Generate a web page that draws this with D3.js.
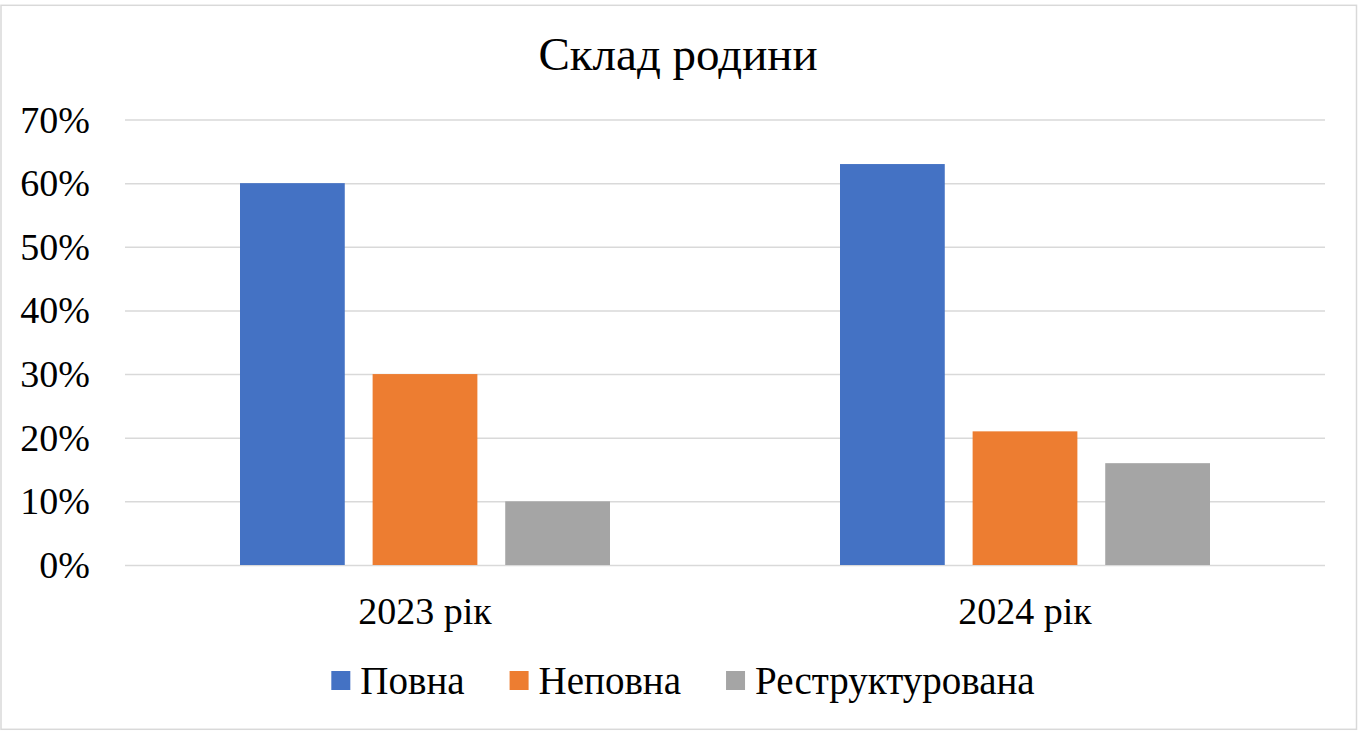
<!DOCTYPE html>
<html lang="uk">
<head>
<meta charset="utf-8">
<title>Склад родини</title>
<script src="https://cdn.jsdelivr.net/npm/d3@7"></script>
<style>
  html, body { margin: 0; padding: 0; background: #fff; }
  svg { display: block; font-family: "Liberation Serif", "Times New Roman", serif; }
  .grid line { stroke: #d9d9d9; stroke-width: 1.5; }
  .axis text { fill: #000; font-size: 38px; font-family: "Liberation Serif", "Times New Roman", serif; }
  .legend text { fill: #000; font-size: 39px; }
</style>
</head>
<body>
<svg id="chart" width="1358" height="731"></svg>
<script>
// chart data
const TITLE = 'Склад родини';
const YEARS = ['2023 рік', '2024 рік'];
const SERIES = ['Повна', 'Неповна', 'Реструктурована'];
const COLORS = ['#4472C4', '#ED7D31', '#A5A5A5'];
const POVNA = [0.60, 0.63];
const NEPOVNA = [0.30, 0.21];
const RESTR = [0.10, 0.16];
const Y_TICKS = [0, 0.1, 0.2, 0.3, 0.4, 0.5, 0.6, 0.7];

(function () {
  const svg = d3.select('#chart');
  const W = 1358, H = 731;
  const plot = { left: 125, right: 1325, top: 119.5, bottom: 565 };

  // outer frame
  svg.append('rect').attr('x', 1).attr('y', 5.3).attr('width', W - 2.5).attr('height', H - 7)
    .attr('fill', '#fff').attr('stroke', '#d9d9d9').attr('stroke-width', 1.5);

  svg.append('text').attr('x', 678).attr('y', 70).attr('text-anchor', 'middle')
    .style('font-size', '47px').attr('fill', '#000').text(TITLE);

  const y = d3.scaleLinear().domain([0, 0.7]).range([plot.bottom, plot.top]);
  const x = d3.scaleBand().domain(YEARS).range([plot.left, plot.right]).padding(0);
  const xs = d3.scaleBand().domain(SERIES).range([115, 485]).paddingInner(0.21).paddingOuter(0);

  // y axis + gridlines
  svg.append('g').attr('class', 'axis grid').attr('transform', `translate(${plot.left},0)`)
    .call(d3.axisLeft(y).tickValues(Y_TICKS).tickFormat(d3.format('.0%'))
      .tickSize(-(plot.right - plot.left)).tickPadding(35))
    .call(s => s.select('.domain').remove())
    .call(s => s.selectAll('text').attr('dy', '0.33em'));

  // x axis labels
  svg.append('g').attr('class', 'axis').attr('transform', `translate(0,${plot.bottom})`)
    .call(d3.axisBottom(x).tickSize(0))
    .call(s => s.select('.domain').remove())
    .call(s => s.selectAll('text').attr('y', 59).attr('dy', 0));

  const values = [POVNA, NEPOVNA, RESTR];
  const rows = [];
  YEARS.forEach((yr, i) => SERIES.forEach((s, j) => rows.push({ yr, s, j, v: values[j][i] })));

  svg.append('g').selectAll('rect').data(rows).enter().append('rect')
    .attr('x', d => x(d.yr) + xs(d.s))
    .attr('width', xs.bandwidth())
    .attr('y', d => y(d.v))
    .attr('height', d => y(0) - y(d.v))
    .attr('fill', d => COLORS[d.j]);

  // legend, centred on the frame
  const leg = svg.append('g').attr('class', 'legend');
  let cx = 0;
  SERIES.forEach((s, j) => {
    const g = leg.append('g').attr('transform', `translate(${cx},0)`);
    g.append('rect').attr('x', 0).attr('y', 671).attr('width', 19).attr('height', 19).attr('fill', COLORS[j]);
    const t = g.append('text').attr('x', 29).attr('y', 694).text(s);
    cx += 29 + t.node().getComputedTextLength() + 45;
  });
  const legW = cx - 45;
  leg.attr('transform', `translate(${(683 - legW / 2)},0)`);
})();
</script>
</body>
</html>
